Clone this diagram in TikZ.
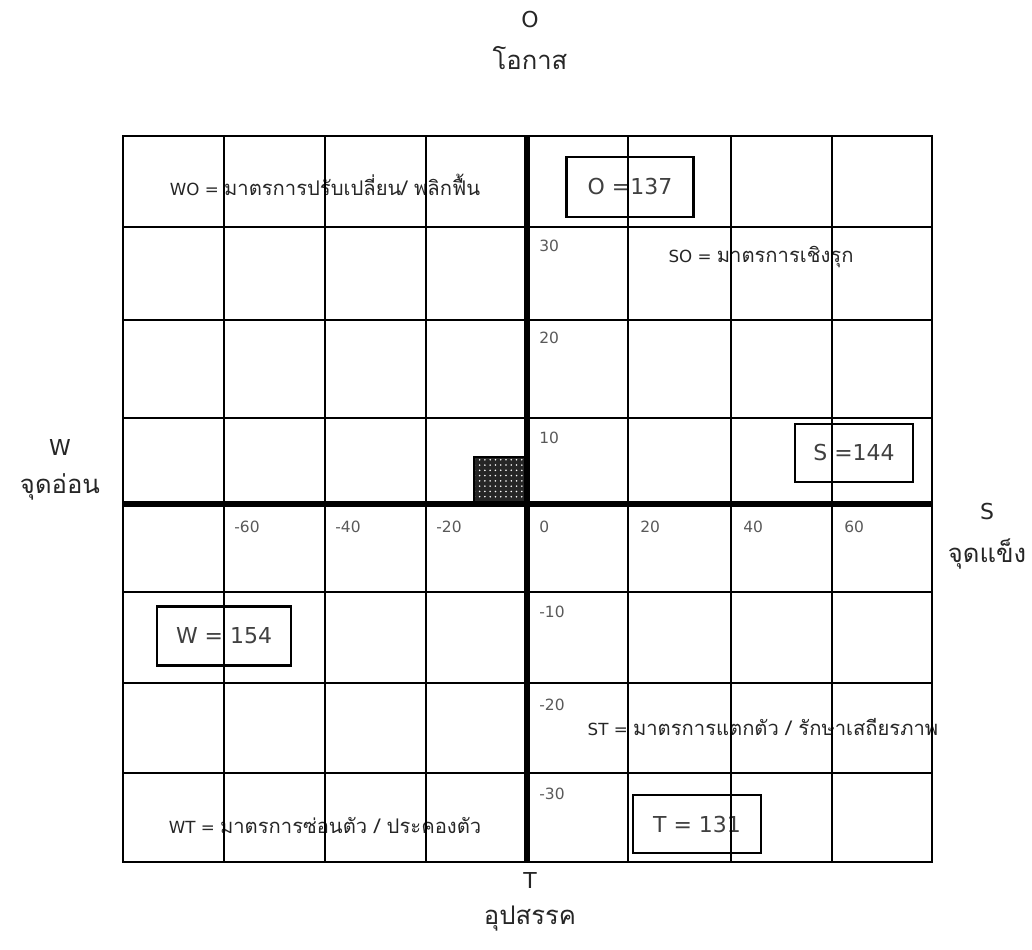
\documentclass[tikz,border=0pt]{standalone}
\usepackage{fontspec}
\setmainfont{DejaVu Sans}
\newfontfamily\thaifont[Script=Thai]{Loma}
\newcommand\thai[2][11.5]{{\thaifont\fontsize{#1}{14}\selectfont #2}}
\usetikzlibrary{positioning,patterns}

\begin{document}
\begin{tikzpicture}[x=0.02cm,y=-0.02cm,
    title/.style={font=\fontsize{12.5}{14}\selectfont, text=black!85, inner sep=1pt},
    note/.style={font=\fontsize{9.5}{12}\selectfont, text=black!85},
    num/.style={font=\fontsize{8.8}{11}\selectfont, text=black!65, anchor=west, inner sep=0pt},
    valbox/.style={draw, line width=1.2pt, inner sep=0pt, font=\fontsize{12.5}{15}\selectfont, text=black!75},
    grid/.style={black, line width=0.7pt},
    axis/.style={black, line width=3.4pt}]

\useasboundingbox (0,0) rectangle (1032,950);

% Side titles
\node[title] (otop) at (530,20) {O};
\node[title, below=2.8mm of otop] (othai) {\thai[14.6]{โอกาส}};
\node[title] (wleft) at (60,447) {W};
\node[title, below=2.8mm of wleft] (wthai) {\thai[14.6]{จุดอ่อน}};
\node[title] (sright) at (987,512) {S};
\node[title, below=2.8mm of sright] (sthai) {\thai[14.6]{จุดแข็ง}};
\node[title] (tbot) at (530,880) {T};
\node[title, below=2.8mm of tbot] (tthai) {\thai[14.6]{อุปสรรค}};

% Quadrant notes
\node[note] (wo) at (325,185) {WO = \thai{มาตรการปรับเปลี่ยน/ พลิกฟื้น}};
\node[note] (so) at (761,257) {SO = \thai{มาตรการเชิงรุก}};
\node[note] (st) at (763,727) {ST = \thai{มาตรการแตกตัว / รักษาเสถียรภาพ}};
\node[note] (wt) at (325,825) {WT = \thai{มาตรการซ่อนตัว / ประคองตัว}};

% Score boxes
\node[valbox, minimum width=2.54cm, minimum height=1.2cm] (obox) at (630,187) {O =137};
\node[valbox, minimum width=2.36cm, minimum height=1.16cm] (sbox) at (854,453) {S =144};
\node[valbox, minimum width=2.68cm, minimum height=1.18cm] (wbox) at (224,636) {W = 154};
\node[valbox, minimum width=2.56cm, minimum height=1.16cm] (tbox) at (697,824) {T = 131};

% Grid
\foreach \x in {224,325,426,628,731,832}
    \draw[grid] (\x,136) -- (\x,862);
\foreach \y in {227,320,418,592,683,773}
    \draw[grid] (123,\y) -- (932,\y);
\draw[grid] (123,136) rectangle (932,862);

% Position marker
\fill[black!85] (474,457) rectangle (527,504);
\fill[pattern=dots, pattern color=white] (474,457) rectangle (527,504);
\draw[black, line width=0.6pt] (474,504) |- (527,457);

% Axes
\draw[axis] (527,136) -- (527,862);
\draw[axis] (123,504) -- (932,504);

% Scale labels
\foreach \x/\v in {234/-60,335/-40,436/-20,539/0,640/20,743/40,844/60}
    \node[num] at (\x,527) {\v};
\foreach \y/\v in {246/30,338/20,438/10,612/-10,705/-20,794/-30}
    \node[num] at (539,\y) {\v};

\end{tikzpicture}
\end{document}
